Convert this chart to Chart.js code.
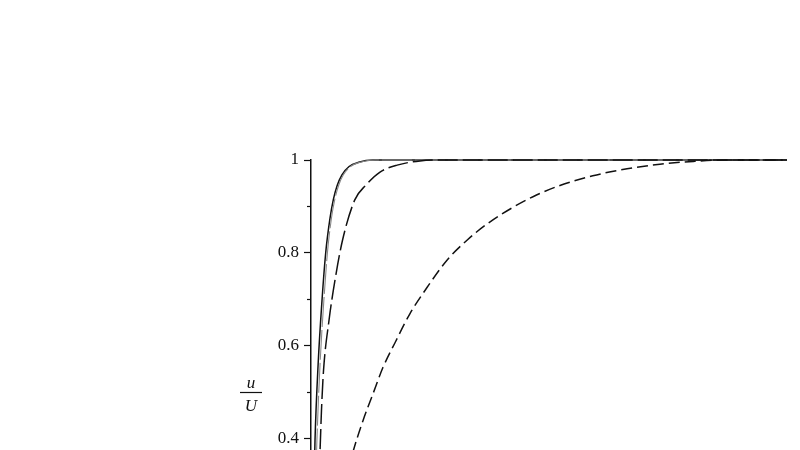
<!DOCTYPE html>
<html lang="en">
<head>
  <meta charset="UTF-8">
  <title>u/U profiles</title>
  <script src="https://cdn.jsdelivr.net/npm/chart.js"></script>
  <style>
    html, body { margin: 0; padding: 0; background: #fff; overflow: hidden; }
    #chart { display: block; }
  </style>
</head>
<body>
  <canvas id="chart" width="800" height="639"></canvas>
  <script>
    // profiles (x in arbitrary units 0..10)
    const etaSolid = [0, 0.04, 0.084, 0.15, 0.231, 0.309, 0.4, 0.47, 0.55, 0.65, 0.8, 1.0, 1.3, 10];
    const uSolid   = [0, 0.19, 0.395, 0.56, 0.697, 0.8, 0.875, 0.915, 0.945, 0.968, 0.986, 0.995, 1, 1];

    const etaNear = [0, 0.07, 0.124, 0.19, 0.27, 0.345, 0.43, 0.5, 0.58, 0.68, 0.83, 1.03, 1.35, 10];
    const uNear   = [0, 0.2, 0.395, 0.56, 0.697, 0.8, 0.875, 0.915, 0.945, 0.968, 0.986, 0.995, 1, 1];

    const etaMid = [0, 0.12, 0.19, 0.22, 0.263, 0.378, 0.504, 0.662, 0.92, 1.155, 1.45, 1.81, 2.29, 2.8, 10];
    const uMid   = [0, 0.2, 0.373, 0.46, 0.546, 0.654, 0.741, 0.827, 0.914, 0.946, 0.974, 0.989, 0.998, 1, 1];

    const etaSlow = [0, 0.4, 0.889, 1.092, 1.303, 1.513, 1.765, 2.08, 2.437, 2.857, 3.277, 3.697, 4.244, 4.748, 5.23, 5.92, 6.64, 7.33, 8.03, 8.7, 10];
    const uSlow   = [0, 0.18, 0.373, 0.438, 0.496, 0.553, 0.606, 0.669, 0.725, 0.784, 0.827, 0.862, 0.898, 0.925, 0.945, 0.966, 0.981, 0.991, 0.997, 1, 1];

    const yTickValues = [0, 0.2, 0.4, 0.6, 0.8, 1];
    const yMinorTicks = [0.1, 0.3, 0.5, 0.7, 0.9];
    const titleTop = 'u';
    const titleBottom = 'U';

    const pts = (xs, ys) => xs.map((x, i) => ({ x: x, y: ys[i] }));
    const ink = '#111';

    const fractionTitle = {
      id: 'fractionTitle',
      afterDraw(chart) {
        const y = chart.scales.y, a = chart.chartArea, ctx = chart.ctx;
        ctx.save();
        ctx.strokeStyle = ink; ctx.fillStyle = ink; ctx.lineWidth = 1.2;
        yMinorTicks.forEach(v => {
          const py = Math.round(y.getPixelForValue(v)) + 0.5;
          ctx.beginPath(); ctx.moveTo(a.left - 4, py); ctx.lineTo(a.left, py); ctx.stroke();
        });
        const cy = Math.round(y.getPixelForValue(0.5)) + 0.5, cx = a.left - 60;
        ctx.beginPath(); ctx.moveTo(cx - 11, cy); ctx.lineTo(cx + 11, cy); ctx.stroke();
        ctx.font = 'italic 17px "Liberation Serif"';
        ctx.textAlign = 'center'; ctx.textBaseline = 'alphabetic';
        ctx.fillText(titleTop, cx, cy - 5);
        ctx.fillText(titleBottom, cx, cy + 18);
        ctx.restore();
      }
    };

    const line = (data, dash, color, width) => ({
      data: data, borderColor: color, borderWidth: width, borderDash: dash,
      pointRadius: 0, fill: false, cubicInterpolationMode: 'monotone', clip: 4
    });

    new Chart(document.getElementById('chart'), {
      type: 'line',
      data: {
        datasets: [
          line(pts(etaSlow, uSlow), [11, 5], ink, 1.5),
          line(pts(etaMid, uMid), [20, 5], ink, 1.5),
          line(pts(etaNear, uNear), [30, 3], '#888', 1.1),
          line(pts(etaSolid, uSolid), [], ink, 1.5)
        ]
      },
      options: {
        responsive: false, animation: false,
        layout: { padding: { top: 160, right: 13, bottom: 0, left: 0 } },
        plugins: { legend: { display: false }, tooltip: { enabled: false } },
        scales: {
          x: { type: 'linear', min: 0, max: 10, display: false },
          y: {
            min: 0, max: 1,
            afterFit: s => { s.width = 311; },
            afterBuildTicks: s => { s.ticks = yTickValues.map(v => ({ value: v })); },
            border: { display: true, color: ink, width: 1.5 },
            grid: { drawOnChartArea: false, drawTicks: true, tickLength: 7, tickColor: ink, tickWidth: 1.2 },
            ticks: {
              color: ink, padding: 5,
              font: { family: '"Liberation Serif", serif', size: 17 },
              callback: v => String(v)
            }
          }
        }
      },
      plugins: [fractionTitle]
    });
  </script>
</body>
</html>
